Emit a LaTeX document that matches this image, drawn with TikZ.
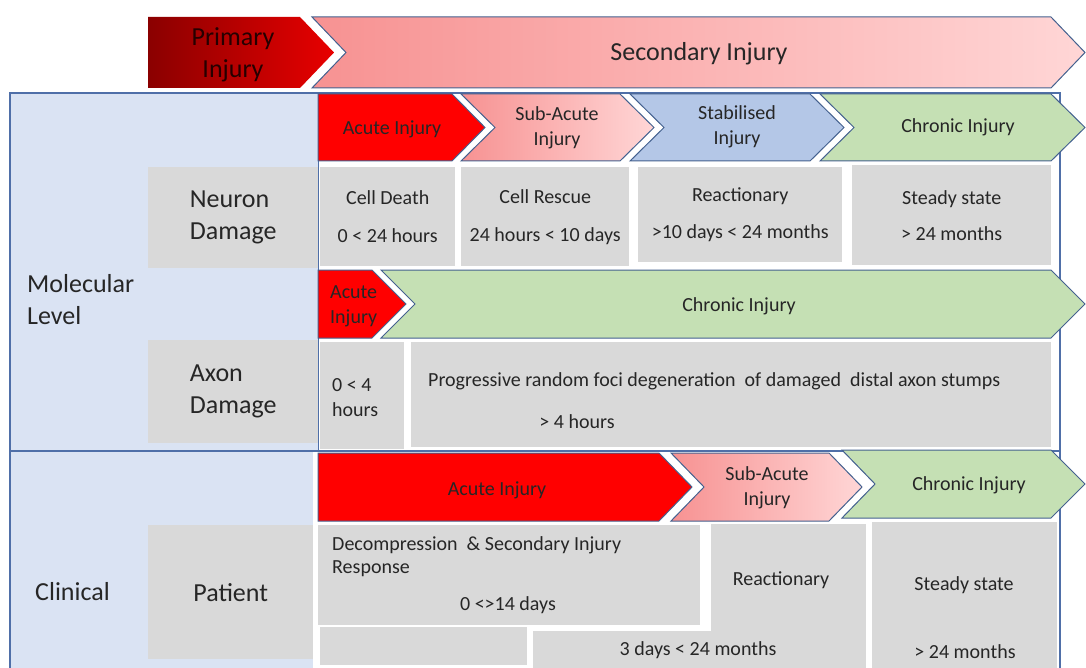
\documentclass[tikz,border=0pt]{standalone}
\usepackage{fontspec}
\setmainfont{Carlito}
\usepackage{xcolor}
\usepackage{tikz}
\usetikzlibrary{positioning}
\definecolor{panelblue}{HTML}{DAE3F3}
\definecolor{panelline}{HTML}{4F6FA8}
\definecolor{cellgray}{HTML}{D9D9D9}
\definecolor{chevline}{HTML}{44618F}
\definecolor{acutered}{HTML}{FF0000}
\definecolor{primdark}{HTML}{8A0000}
\definecolor{primred}{HTML}{E80000}
\definecolor{pinkleft}{HTML}{F79292}
\definecolor{pinkright}{HTML}{FFD6D6}
\definecolor{stabblue}{HTML}{B4C7E7}
\definecolor{chronicgreen}{HTML}{C5E0B4}
\definecolor{ink}{HTML}{262626}
\tikzset{
    panel/.style={draw=panelline, line width=1.3pt},
    cell/.style={rectangle, fill=cellgray, inner sep=0pt, anchor=north west, align=center, font=\fontsize{20}{25}\selectfont, text=ink},
    head/.style={rectangle, fill=cellgray, inner sep=0pt, anchor=north west, align=left, font=\fontsize{26}{32}\selectfont, text=ink},
    phase/.style={draw=chevline, line width=1pt, line join=miter},
    phaselabel/.style={align=center, inner sep=0pt, font=\fontsize{20}{25}\selectfont, text=ink},
    biglabel/.style={align=left, inner sep=0pt, font=\fontsize{26}{32}\selectfont, text=ink},
    note/.style={anchor=west, align=left, inner sep=0pt, font=\fontsize{20}{25}\selectfont, text=ink}
}

\begin{document}
\begin{tikzpicture}[x=1pt, y=-1pt]
    \useasboundingbox (0,0) rectangle (1086,668);

    % Panels
    \fill[panelblue] (10,93) rectangle (318,451);
    \fill[panelblue] (10,451) rectangle (313,668);
    \draw[panel] (10,93) rectangle (1060,451);
    \draw[panel] (10,668) -- (10,451) -- (1060,451) -- (1060,668);
    \draw[panel, line width=0.8pt] (318,93) -- (318,451);

    % Primary / Secondary
    \path[left color=primdark, right color=primred] (148,17) -- (300,17) -- (334,52.5) -- (300,88) -- (148,88) -- cycle;
    \node[biglabel, align=center, text=black!85!red] (primary) at (233,55) {Primary\\Injury};
    \path[phase, left color=pinkleft, right color=pinkright] (312,17) -- (1051,17) -- (1085,52.5) -- (1051,88) -- (312,88) -- (346,52.5) -- cycle;
    \node[biglabel] (secondary) at (699,54) {Secondary Injury};

    % Row headers
    \node[biglabel, anchor=west] (molecular) at (27,300) {Molecular\\Level};
    \node[biglabel, anchor=west] (clinical) at (35,592) {Clinical};
    \node[head, minimum width=170, minimum height=101] (neuron) at (148,167) {Neuron\\Damage};
    \node[head, minimum width=170, minimum height=103] (axon) at (148,340) {Axon\\Damage};
    \node[head, minimum width=165, minimum height=134] (patient) at (148,525) {Patient};

    % Neuron phases
    \path[phase, fill=acutered] (318,94) -- (452,94) -- (485,127.5) -- (452,161) -- (318,161) -- cycle;
    \node[phaselabel] (nAcute) at (392,129) {Acute Injury};
    \path[phase, left color=pinkleft, right color=pinkright] (461,94) -- (620,94) -- (654,127.5) -- (620,161) -- (461,161) -- (495,127.5) -- cycle;
    \node[phaselabel] (nSubAcute) at (557,128) {Sub-Acute\\Injury};
    \path[phase, fill=stabblue] (630,94) -- (810,94) -- (844,127.5) -- (810,161) -- (630,161) -- (664,127.5) -- cycle;
    \node[phaselabel] (nStable) at (737,127) {Stabilised\\Injury};
    \path[phase, fill=chronicgreen] (820,94) -- (1051,94) -- (1085,127.5) -- (1051,161) -- (820,161) -- (854,127.5) -- cycle;
    \node[phaselabel] (nChronic) at (958,127) {Chronic Injury};

    % Neuron cells
    \node[cell, minimum width=135, minimum height=99] (cellDeath) at (320,167) {Cell Death\\[13pt]0 < 24 hours};
    \node[cell, minimum width=168, minimum height=99] (cellRescue) at (461,167) {Cell Rescue\\[13pt]24 hours < 10 days};
    \node[cell, minimum width=204, minimum height=95] (nReact) at (638,167) {Reactionary\\[12pt]>10 days < 24 months};
    \node[cell, minimum width=199, minimum height=100] (nSteady) at (852,165) {Steady state\\[11pt]> 24 months};

    % Axon phases
    \path[phase, fill=acutered] (318,270) -- (372,270) -- (406,304) -- (372,338) -- (318,338) -- cycle;
    \node[phaselabel, align=left, anchor=west] (aAcute) at (330,306) {Acute\\Injury};
    \path[phase, fill=chronicgreen] (381,270) -- (1051,270) -- (1085,304) -- (1051,338) -- (381,338) -- (415,304) -- cycle;
    \node[phaselabel] (aChronic) at (739,306) {Chronic Injury};

    % Axon cells
    \node[cell, minimum width=84, minimum height=107] (aEarly) at (320,342) {};
    \node[note] (aEarlyText) at (332,398) {0 < 4\\hours};
    \node[cell, minimum width=640, minimum height=105] (aLate) at (411,342) {};
    \node[note] (aLateText) at (428,381) {Progressive random foci degeneration\ \ of damaged\ \ distal axon stumps};
    \node[phaselabel] (aLateTime) at (577,422) {> 4 hours};

    % Clinical phases
    \path[phase, fill=acutered] (318,453) -- (659,453) -- (692,487) -- (659,521) -- (318,521) -- cycle;
    \node[phaselabel] (cAcute) at (497,490) {Acute Injury};
    \path[phase, left color=pinkleft, right color=pinkright] (671,453) -- (829,453) -- (862,487) -- (829,521) -- (671,521) -- (704,487) -- cycle;
    \node[phaselabel] (cSubAcute) at (767,488) {Sub-Acute\\Injury};
    \path[phase, fill=chronicgreen] (842,450) -- (1051,450) -- (1085,484) -- (1051,518) -- (842,518) -- (875,484) -- cycle;
    \node[phaselabel] (cChronic) at (969,485) {Chronic Injury};

    % Clinical cells
    \node[cell, minimum width=382, minimum height=100] (decomp) at (318,525) {};
    \node[note] (decompText) at (332,545) {Decompression\ \ \& Secondary Injury};
    \node[note] (respText) at (332,569) {Response};
    \node[phaselabel] (decompTime) at (508,605) {0 <>14 days};
    \node[cell, minimum width=207, minimum height=38] (blank) at (320,627) {};
    \node[cell, minimum width=155, minimum height=144] (cReact) at (711,524) {};
    \node[cell, minimum width=333, minimum height=37] (cReactStrip) at (533,631) {};
    \node[phaselabel] (cReactText) at (781,580) {Reactionary};
    \node[phaselabel] (cReactTime) at (698,650) {3 days < 24 months};
    \node[cell, minimum width=185, minimum height=146] (cSteady) at (872,522) {};
    \node[phaselabel] (cSteadyText) at (964,585) {Steady state};
    \node[phaselabel] (cSteadyTime) at (965,652) {> 24 months};
\end{tikzpicture}
\end{document}
